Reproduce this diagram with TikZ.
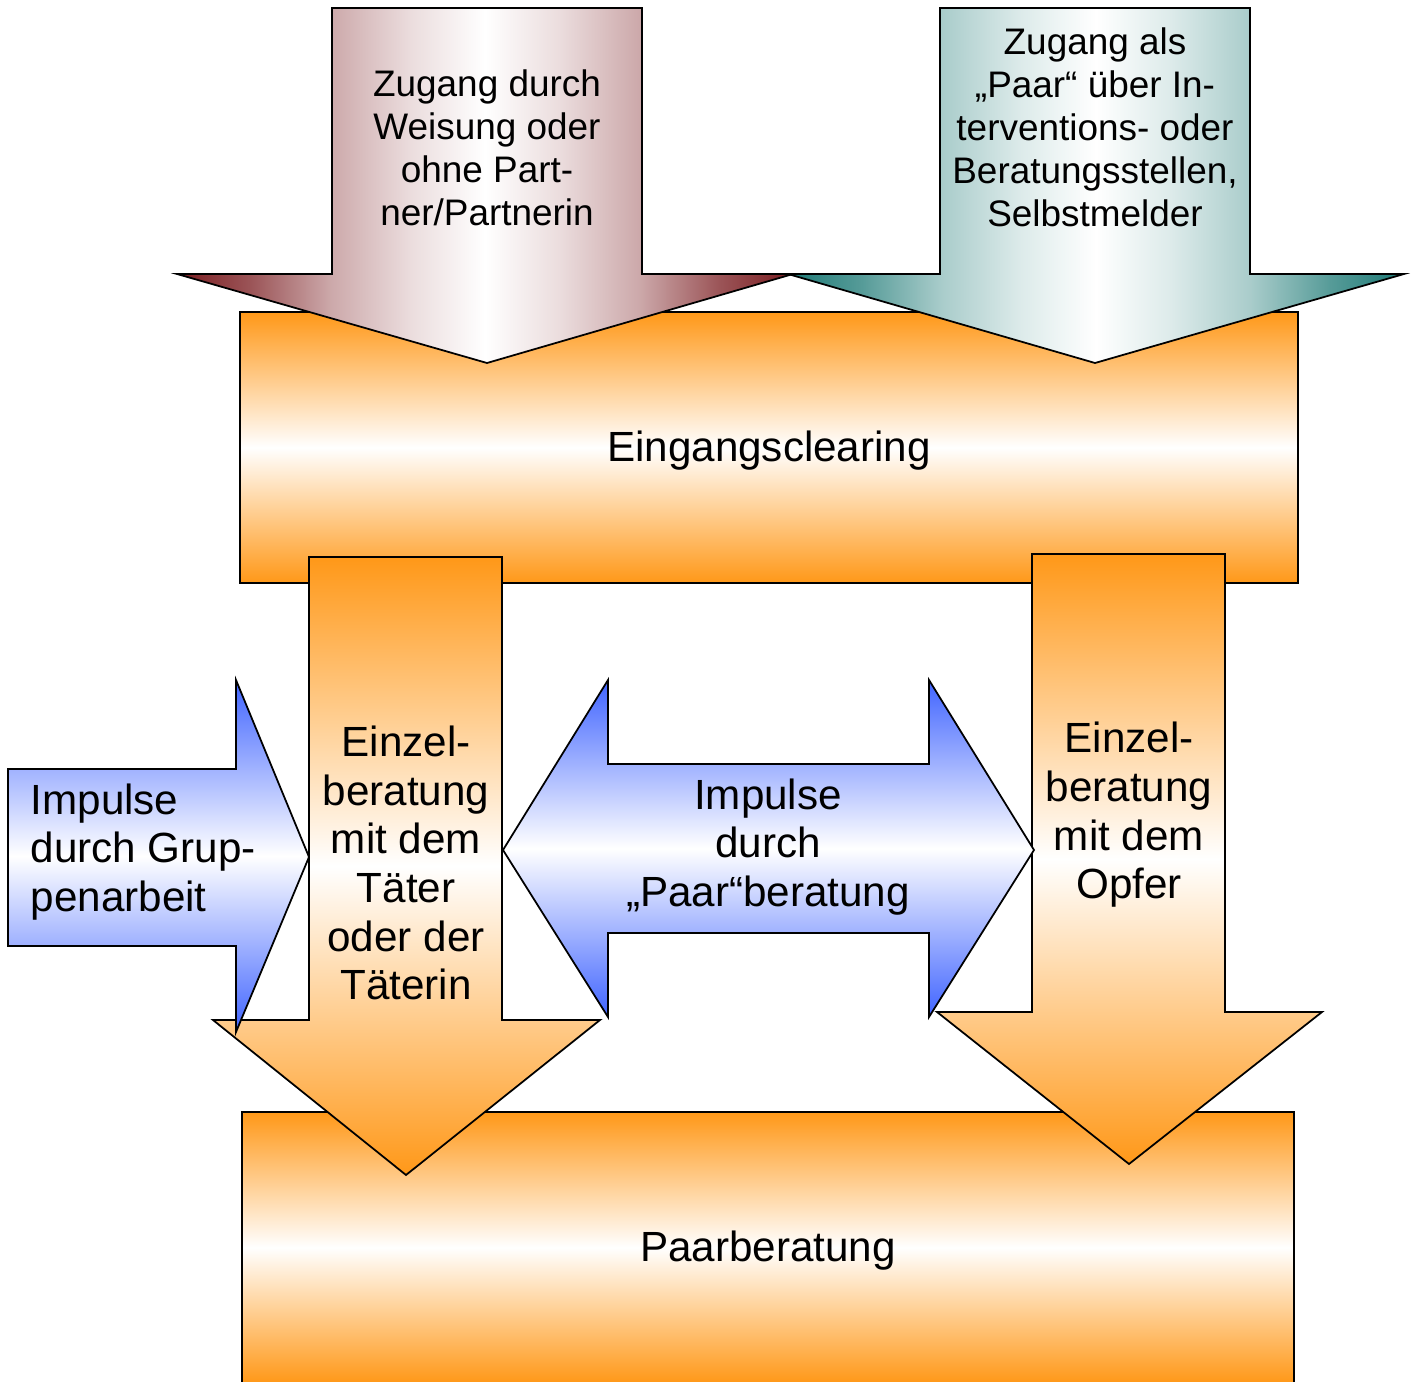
\documentclass[tikz,border=0pt]{standalone}
\usepackage{fontspec}
\setmainfont{Liberation Sans}
\usetikzlibrary{positioning}

\definecolor{boxorange}{RGB}{255,152,24}
\definecolor{arrowred}{RGB}{122,28,32}
\definecolor{arrowteal}{RGB}{30,122,118}
\definecolor{arrowblue}{RGB}{64,100,255}

\pgfdeclarehorizontalshading{redfade}{100bp}{color(0bp)=(arrowred); color(25bp)=(arrowred);
    color(31bp)=(arrowred!75!white); color(37.5bp)=(arrowred!38!white); color(44bp)=(arrowred!15!white);
    color(50bp)=(white); color(56bp)=(arrowred!15!white); color(62.5bp)=(arrowred!38!white);
    color(69bp)=(arrowred!75!white); color(75bp)=(arrowred); color(100bp)=(arrowred)}
\pgfdeclarehorizontalshading{tealfade}{100bp}{color(0bp)=(arrowteal); color(25bp)=(arrowteal);
    color(31bp)=(arrowteal!75!white); color(37.5bp)=(arrowteal!38!white); color(44bp)=(arrowteal!15!white);
    color(50bp)=(white); color(56bp)=(arrowteal!15!white); color(62.5bp)=(arrowteal!38!white);
    color(69bp)=(arrowteal!75!white); color(75bp)=(arrowteal); color(100bp)=(arrowteal)}

\tikzset{
    shape line/.style={draw=black, line width=0.5pt, line join=miter},
    orange shade/.style={shape line, top color=boxorange, bottom color=boxorange, middle color=white},
    blue shade/.style={shape line, top color=arrowblue, bottom color=arrowblue, middle color=white},
    red shade/.style={shape line, shade, shading=redfade},
    teal shade/.style={shape line, shade, shading=tealfade},
    small text/.style={align=center, inner sep=0pt, font=\fontsize{10.5}{12.2}\selectfont},
    big text/.style={align=center, inner sep=0pt, font=\fontsize{12}{13.85}\selectfont}
}

\begin{document}
\begin{tikzpicture}[x=0.01cm, y=-0.01cm]
            \useasboundingbox (0,0) rectangle (1412,1382);
            \path[orange shade] (240,312) rectangle (1298,583);
            \path[orange shade] (242,1112) rectangle (1294,1383);
            \path[red shade] (332,8) -- (642,8) -- (642,274) -- (793,274) -- (487,363)
                -- (177,274) -- (332,274) -- cycle;
            \path[teal shade] (940,8) -- (1250,8) -- (1250,274) -- (1404,274) -- (1095,363)
                -- (788,274) -- (940,274) -- cycle;
            \path[orange shade] (309,557) -- (502,557) -- (502,1020) -- (600,1020) -- (406,1175)
                -- (213,1020) -- (309,1020) -- cycle;
            \path[orange shade] (1032,554) -- (1225,554) -- (1225,1012) -- (1322,1012) -- (1129,1164)
                -- (937,1012) -- (1032,1012) -- cycle;
            \path[blue shade] (8,769) -- (236,769) -- (236,680) -- (309,857) -- (236,1032)
                -- (236,946) -- (8,946) -- cycle;
            \path[blue shade] (503,850) -- (608,680) -- (608,764) -- (929,764) -- (929,680)
                -- (1034,850) -- (929,1017) -- (929,933) -- (608,933) -- (608,1017) -- cycle;
            \node (ZW) [small text] at (487,148) {Zugang durch\\Weisung oder\\ohne Part-\\ner/Partnerin};
            \node (ZP) [small text] at (1095,127) {Zugang als\\„Paar“ über In-\\terventions- oder\\Beratungsstellen,\\Selbstmelder};
            \node (EC) [big text] at (769,451) {Eingangsclearing};
            \node (ET) [big text] at (406,863) {Einzel-\\beratung\\mit dem\\Täter\\oder der\\Täterin};
            \node (EO) [big text] at (1129,815) {Einzel-\\beratung\\mit dem\\Opfer};
            \node (IG) [big text, align=left, anchor=west] at (30,852) {Impulse\\durch Grup-\\penarbeit};
            \node (IP) [big text] at (768,847) {Impulse\\durch\\„Paar“beratung};
            \node (PB) [big text] at (768,1251) {Paarberatung};
\end{tikzpicture}
\end{document}
